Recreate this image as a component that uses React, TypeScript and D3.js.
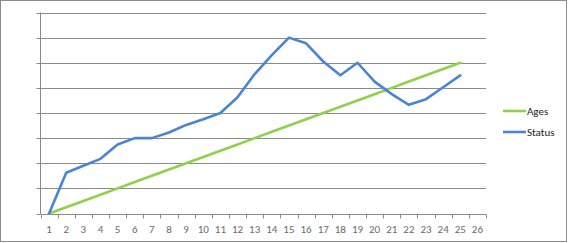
import React from "react";
import * as d3 from "d3";

const categories = ["1","2","3","4","5","6","7","8","9","10","11","12","13","14","15","16","17","18","19","20","21","22","23","24","25","26"];
const agesValues = [0,1,2,3,4,5,6,7,8,9,10,11,12,13,14,15,16,17,18,19,20,21,22,23,24];
const statusValues = [0,6.5,7.6,8.7,11,12,12,12.9,14.1,15,16,18.5,22.2,25.2,28,27.1,24.2,22,24,21,19,17.3,18.2,20.1,22];
const yTicks = [0,4,8,12,16,20,24,28,32];
const seriesNames = ["Ages","Status"];
const seriesColors = ["#8fd14a","#4a84d4"];

const W = 568, H = 243;
const left = 40.5, right = 486, top = 12.5, bottom = 213.5;

export default function App() {
  const x = d3.scaleBand<string>().domain(categories).range([left, right]).padding(0);
  const y = d3.scaleLinear().domain([0, 32]).range([bottom, top]);
  const cx = (i: number) => (x(categories[i]) as number) + x.bandwidth() / 2;
  const line = d3.line<number>().x((_, i) => cx(i)).y((d) => y(d));
  const series = [agesValues, statusValues];
  const bounds = categories.map((c) => x(c) as number).concat([right]);
  const font = "Calibri, 'Liberation Sans', Arial, sans-serif";
  return (
    <svg width={W} height={H} style={{ position: "absolute", left: 0, top: 0, background: "#fff" }}>
      <rect x={0.5} y={0.5} width={W - 2} height={H - 2} fill="#fff" stroke="#8c8c8c" strokeWidth={1} />
      {yTicks.map((t) => (
        <g key={t}>
          <line x1={left} x2={right} y1={Math.round(y(t)) + 0.5} y2={Math.round(y(t)) + 0.5} stroke="#8a8a8a" strokeWidth={1} />
          <line x1={left - 4} x2={left} y1={Math.round(y(t)) + 0.5} y2={Math.round(y(t)) + 0.5} stroke="#8a8a8a" strokeWidth={1} />
        </g>
      ))}
      <line x1={left} x2={left} y1={top} y2={bottom + 0.5} stroke="#8a8a8a" strokeWidth={1} />
      {bounds.map((b, i) => (
        <line key={i} x1={Math.round(b) + 0.5} x2={Math.round(b) + 0.5} y1={Math.round(bottom) + 0.5} y2={Math.round(bottom) + 4.5} stroke="#8a8a8a" strokeWidth={1} />
      ))}
      {categories.map((c, i) => (
        <text key={c} x={cx(i)} y={233} textAnchor="middle" fontSize={11} fontFamily={font} fill="#6a6a6a">{c}</text>
      ))}
      {series.map((s, k) => (
        <path key={k} d={line(s) as string} fill="none" stroke={seriesColors[k]} strokeWidth={2.6} strokeLinejoin="round" strokeLinecap="round" />
      ))}
      {seriesNames.map((n, k) => (
        <g key={n}>
          <line x1={503} x2={526} y1={111 + k * 21} y2={111 + k * 21} stroke={seriesColors[k]} strokeWidth={2.6} />
          <text x={527} y={115 + k * 21} fontSize={11} fontFamily={font} fill="#222">{n}</text>
        </g>
      ))}
    </svg>
  );
}
